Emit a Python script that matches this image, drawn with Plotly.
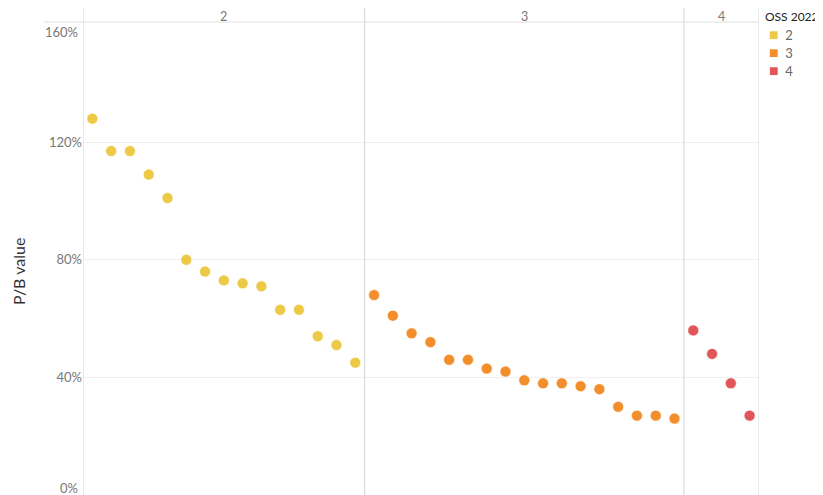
import plotly.graph_objects as go

# ---- data ----
groups = ["2", "3", "4"]
pb_group2 = [128, 117, 117, 109, 101, 80, 76, 73, 72, 71, 63, 63, 54, 51, 45]
pb_group3 = [68, 61, 55, 52, 46, 46, 43, 42, 39, 38, 38, 37, 36, 30, 27, 27, 26]
pb_group4 = [56, 48, 38, 27]
colors = ["#EDC948", "#F28E2B", "#E15759"]
legend_title = "OSS 2022"
y_ticks = [0, 40, 80, 120, 160]
y_tick_text = ["0%", "40%", "80%", "120%", "160%"]

series = [pb_group2, pb_group3, pb_group4]

FONT = "Lato, 'Open Sans', sans-serif"
OFF = 8  # default page body margin
W, H = 823 - OFF, 495 - OFF
# plot area in window pixels: x 83..759, y 22..495
ML = 83 - OFF
MR = 823 - 759
MT = 22 - OFF
MB = 0
plot_w = W - ML - MR
plot_h = H - MT - MB

fig = go.Figure()

start = 0
bounds = [-0.5]
for g, vals, col in zip(groups, series, colors):
    xs = list(range(start, start + len(vals)))
    fig.add_trace(go.Scatter(
        x=xs, y=vals, mode="markers", showlegend=False, name=g,
        marker=dict(size=11, color=col, line=dict(width=0.6, color="white")),
    ))
    start += len(vals)
    bounds.append(start - 0.5)

total = start
x_lo, x_hi = -0.5, total - 0.5

def px_x(p):  # window pixel -> paper x
    return (p - OFF - ML) / plot_w

def px_y(p):  # window pixel -> paper y
    return (H - MB - (p - OFF)) / plot_h

shapes = []
for b in bounds:
    shapes.append(dict(type="line", xref="x", yref="paper", x0=b, x1=b,
                       y0=0, y1=px_y(7), line=dict(color="#d4d4d4", width=1)))
# header bottom line
shapes.append(dict(type="line", xref="paper", yref="paper", x0=px_x(44), x1=1,
                   y0=1, y1=1, line=dict(color="#e0e0e0", width=1)))

annotations = []
for i, g in enumerate(groups):
    cx = (bounds[i] + bounds[i + 1]) / 2
    annotations.append(dict(x=cx, xref="x", y=px_y(16), yref="paper",
                            text=g, showarrow=False, xanchor="center", yanchor="middle",
                            font=dict(family=FONT, size=12.5, color="#777")))
# end tick labels shifted inward
annotations.append(dict(x=0, xref="paper", xshift=-3, y=y_ticks[0], yref="y", yshift=7,
                        text=y_tick_text[0], showarrow=False, xanchor="right", yanchor="middle",
                        font=dict(family=FONT, size=13, color="#777")))
annotations.append(dict(x=0, xref="paper", xshift=-3, y=y_ticks[-1], yref="y", yshift=-7,
                        text=y_tick_text[-1], showarrow=False, xanchor="right", yanchor="middle",
                        font=dict(family=FONT, size=13, color="#777")))
annotations.append(dict(x=px_x(18), xref="paper", y=px_y(272), yref="paper",
                        text="P/B value", textangle=-90, showarrow=False,
                        xanchor="center", yanchor="middle",
                        font=dict(family=FONT, size=16, color="#333")))
# legend
annotations.append(dict(x=px_x(763), xref="paper", y=px_y(16.5), yref="paper",
                        text=legend_title, showarrow=False, xanchor="left", yanchor="middle",
                        font=dict(family=FONT, size=12, color="#222")))
for i, (g, col) in enumerate(zip(groups, colors)):
    annotations.append(dict(
        x=px_x(767), xref="paper", y=px_y(34 + i * 17.5), yref="paper",
        text=f'<span style="color:{col};font-size:16px">■</span>&nbsp;&nbsp;{g}', showarrow=False,
        xanchor="left", yanchor="middle",
        font=dict(family=FONT, size=13, color="#666")))

fig.update_layout(
    width=W, height=H,
    margin=dict(l=ML, r=MR, t=MT, b=MB, autoexpand=False),
    paper_bgcolor="white", plot_bgcolor="white",
    font=dict(family=FONT),
    shapes=shapes, annotations=annotations,
    showlegend=False,
)
fig.update_xaxes(range=[x_lo, x_hi], showticklabels=False, showgrid=False,
                 zeroline=False, showline=False, ticks="", automargin=False)
fig.update_yaxes(range=[0, 160.9], tickvals=y_ticks[1:-1], ticktext=y_tick_text[1:-1],
                 showgrid=True, gridcolor="#f0f0f0", zeroline=False, showline=False,
                 tickfont=dict(family=FONT, size=13, color="#777"), ticks="", ticklen=0,
                 automargin=False)

fig.write_html("out.html")
